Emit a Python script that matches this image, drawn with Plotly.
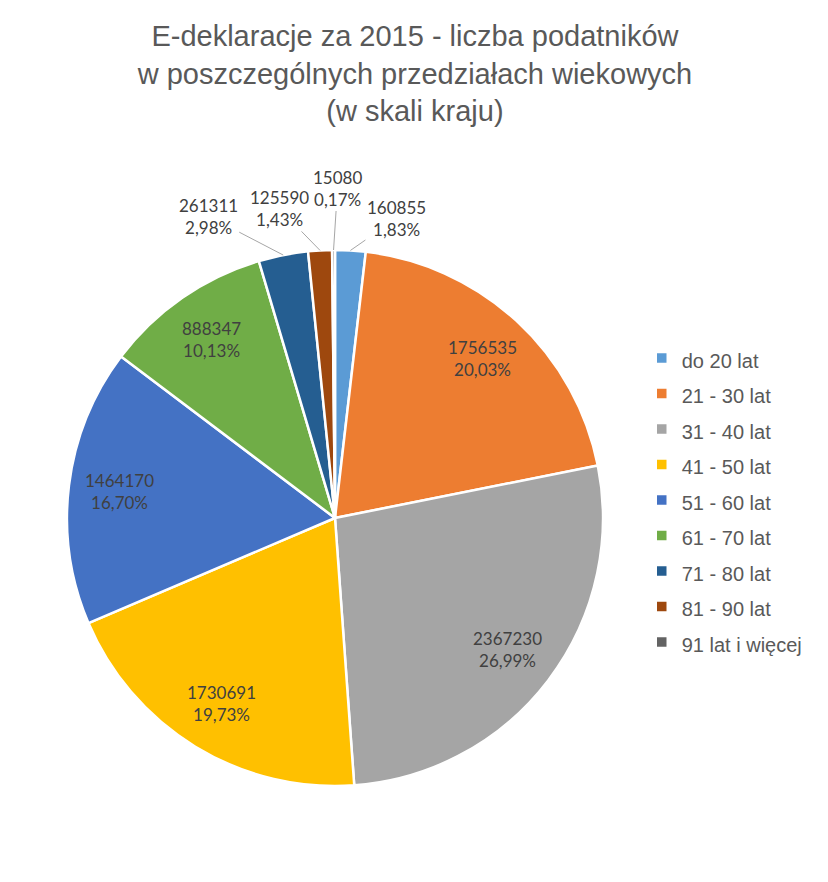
import math
import plotly.graph_objects as go

# E-deklaracje 2015 - taxpayers per age bracket

labels = ['do 20 lat', '21 - 30 lat', '31 - 40 lat', '41 - 50 lat', '51 - 60 lat',
          '61 - 70 lat', '71 - 80 lat', '81 - 90 lat', '91 lat i więcej']
values = [160855, 1756535, 2367230, 1730691, 1464170, 888347, 261311, 125590, 15080]
colors = ['#5B9BD5', '#ED7D31', '#A5A5A5', '#FFC000', '#4472C4',
          '#70AD47', '#255E91', '#9E480E', '#636363']

# small slices are labelled outside with leader lines: (dx, dy) offset of the text in px
outside_offsets = {0: (46, -32), 6: (-75, -39), 7: (-41, -42), 8: (4, -62)}
INSIDE_R = 0.81   # inside labels sit at this fraction of the radius

W, H = 828, 882
# pie placement in figure pixels (center + radius)
CX, CY, R = 327, 510, 268
dom_x = [(CX - R) / W, (CX + R) / W]
dom_y = [1 - (CY + R) / H, 1 - (CY - R) / H]

label_font = dict(family='Lato, Liberation Sans, sans-serif', size=17, color='#404040')

# legend rows are spaced by the legend font size, so keep the text itself at 20px
legend_labels = ['<span style="font-size:20px">%s</span>' % l for l in labels]

fig = go.Figure()
fig.add_trace(go.Pie(
    labels=legend_labels,
    values=values,
    sort=False,
    direction='clockwise',
    rotation=0,
    marker=dict(colors=colors, line=dict(color='white', width=2.5)),
    textinfo='none',
    domain=dict(x=dom_x, y=dom_y),
    hoverinfo='value+percent',
))

# data labels: value + percent, placed from each slice's mid angle
total = sum(values)
cum = 0
for i, v in enumerate(values):
    mid = (cum + v / 2) / total
    cum += v
    theta = 2 * math.pi * mid
    pct = ('%.2f%%' % (100 * v / total)).replace('.', ',')
    txt = '%d<br>%s' % (v, pct)
    if i in outside_offsets:
        px = CX + R * math.sin(theta)
        py = CY - R * math.cos(theta)
        dx, dy = outside_offsets[i]
        fig.add_annotation(
            x=px / W, y=1 - py / H, xref='paper', yref='paper', text=txt,
            showarrow=True, arrowhead=0, arrowwidth=1, arrowcolor='#A6A6A6',
            ax=dx, ay=dy, standoff=0, font=label_font,
        )
    else:
        px = CX + INSIDE_R * R * math.sin(theta)
        py = CY - INSIDE_R * R * math.cos(theta)
        fig.add_annotation(
            x=px / W, y=1 - py / H, xref='paper', yref='paper', text=txt,
            xanchor='center', yanchor='middle',
            showarrow=False, font=label_font,
        )

fig.update_layout(
    title=dict(
        text='E-deklaracje za 2015 - liczba podatników<br>w poszczególnych przedziałach wiekowych<br>(w skali kraju)',
        x=0.4915, xanchor='center', y=0.957, yanchor='top',
        font=dict(family='Liberation Sans, Arial, sans-serif', size=29, color='#595959'),
    ),
    showlegend=True,
    legend=dict(
        x=0.7654, y=0.442, xanchor='left', yanchor='middle',
        font=dict(family='Liberation Sans, Arial, sans-serif', size=25, color='#595959'),
    ),
    width=W, height=H,
    margin=dict(l=0, r=0, t=0, b=0),
    paper_bgcolor='white',
)

fig.write_html("out.html")
